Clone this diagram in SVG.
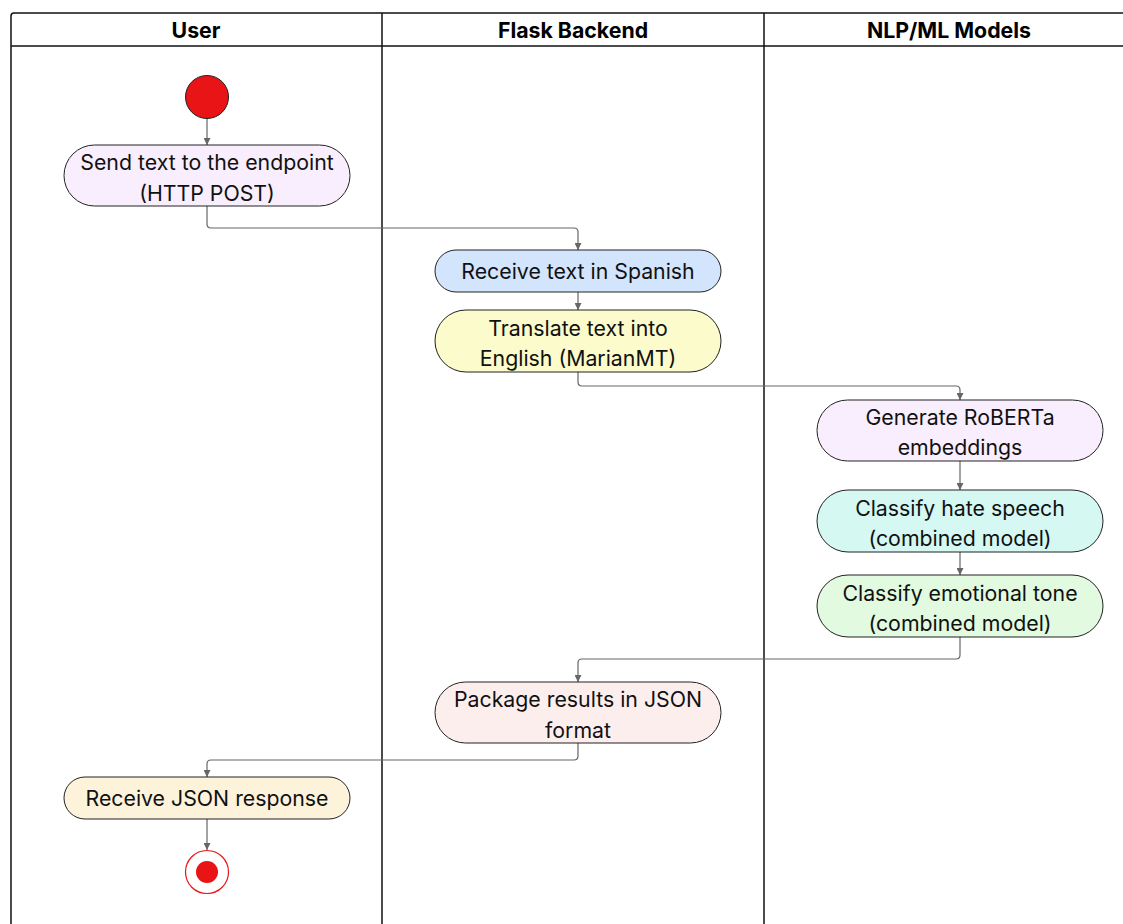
<svg xmlns="http://www.w3.org/2000/svg" width="1123" height="924" viewBox="0 0 1123 924">
  <style>
    .lane { fill: none; stroke: #111; stroke-width: 1.5; }
    .hdr { font-family: Inter, "Liberation Sans", sans-serif; font-size: 21.3px; font-weight: 700; fill: #000; text-anchor: middle; }
    .act { stroke: #222; stroke-width: 1; }
    .lbl { font-family: Inter, "Liberation Sans", sans-serif; font-size: 21.3px; fill: #111; text-anchor: middle; }
    .edge { fill: none; stroke: #666; stroke-width: 1.2; marker-end: url(#arrow); }
  </style>
  <defs>
    <marker id="arrow" viewBox="0 0 10 10" refX="10" refY="5" markerWidth="7" markerHeight="7" markerUnits="userSpaceOnUse" orient="auto">
      <path d="M0,0 L10,5 L0,10 z" fill="#666"/>
    </marker>
  </defs>
  <rect width="1123" height="924" fill="#fff"/>

  <!-- swimlanes -->
  <g id="lanes">
    <path class="lane" d="M11,930 V16 Q11,13 14,13 H1135"/>
    <line class="lane" x1="11" y1="46" x2="1135" y2="46"/>
    <line class="lane" x1="382" y1="13" x2="382" y2="930"/>
    <line class="lane" x1="764" y1="13" x2="764" y2="930"/>
    <text class="hdr" x="196" y="38">User</text>
    <text class="hdr" x="573" y="38">Flask Backend</text>
    <text class="hdr" x="949" y="38">NLP/ML Models</text>
  </g>

  <!-- connectors -->
  <g id="connectors">
    <path class="edge" d="M207,118 V145"/>
    <path class="edge" d="M207,206 V224 Q207,228 211,228 H574 Q578,228 578,232 V250"/>
    <path class="edge" d="M578,292 V310"/>
    <path class="edge" d="M578,372 V382 Q578,386 582,386 H956 Q960,386 960,390 V400"/>
    <path class="edge" d="M960,461 V490"/>
    <path class="edge" d="M960,552 V575"/>
    <path class="edge" d="M960,637 V655 Q960,659 956,659 H582 Q578,659 578,663 V682"/>
    <path class="edge" d="M578,743 V756 Q578,760 574,760 H211 Q207,760 207,764 V777"/>
    <path class="edge" d="M207,819 V850"/>
  </g>

  <g id="start">
    <circle cx="207" cy="97" r="21.5" fill="#e81416" stroke="#222" stroke-width="1"/>
  </g>

  <g id="send-text">
    <rect class="act" x="64" y="145" width="286" height="61" rx="30.5" fill="#f9eefd"/>
    <text class="lbl" x="207" y="170">Send text to the endpoint</text>
    <text class="lbl" x="207" y="201">(HTTP POST)</text>
  </g>

  <g id="receive-spanish">
    <rect class="act" x="435" y="250" width="286" height="42" rx="21" fill="#d3e5fc"/>
    <text class="lbl" x="578" y="279">Receive text in Spanish</text>
  </g>

  <g id="translate">
    <rect class="act" x="435" y="310" width="286" height="62" rx="31" fill="#fbfbcb"/>
    <text class="lbl" x="578" y="336">Translate text into</text>
    <text class="lbl" x="578" y="366">English (MarianMT)</text>
  </g>

  <g id="embeddings">
    <rect class="act" x="817" y="400" width="286" height="61" rx="30.5" fill="#f9eefd"/>
    <text class="lbl" x="960" y="425">Generate RoBERTa</text>
    <text class="lbl" x="960" y="455">embeddings</text>
  </g>

  <g id="hate-speech">
    <rect class="act" x="817" y="490" width="286" height="62" rx="31" fill="#d5f8f3"/>
    <text class="lbl" x="960" y="516">Classify hate speech</text>
    <text class="lbl" x="960" y="546">(combined model)</text>
  </g>

  <g id="emotional-tone">
    <rect class="act" x="817" y="575" width="286" height="62" rx="31" fill="#e2fadf"/>
    <text class="lbl" x="960" y="601">Classify emotional tone</text>
    <text class="lbl" x="960" y="631">(combined model)</text>
  </g>

  <g id="package-json">
    <rect class="act" x="435" y="682" width="286" height="61" rx="30.5" fill="#fdeeee"/>
    <text class="lbl" x="578" y="707">Package results in JSON</text>
    <text class="lbl" x="578" y="738">format</text>
  </g>

  <g id="receive-json">
    <rect class="act" x="64" y="777" width="286" height="42" rx="21" fill="#fdf3db"/>
    <text class="lbl" x="207" y="806">Receive JSON response</text>
  </g>

  <g id="end">
    <circle cx="207" cy="872" r="21.5" fill="#fff" stroke="#e81416" stroke-width="1.2"/>
    <circle cx="207" cy="872" r="11" fill="#e81416"/>
  </g>
</svg>
